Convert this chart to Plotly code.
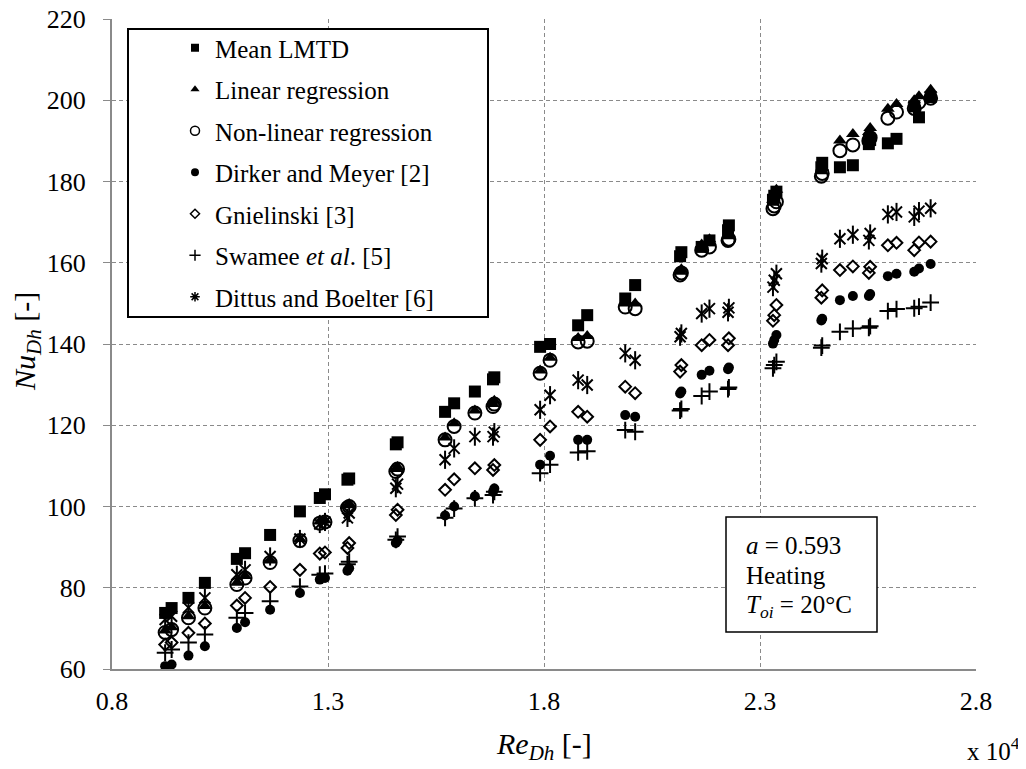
import plotly.graph_objects as go

# Reynolds number (x 10^4)
RE = [0.923, 0.938, 0.977, 1.015, 1.089, 1.108, 1.166, 1.235, 1.281, 1.293,
      1.345, 1.349, 1.457, 1.461, 1.571, 1.592, 1.640, 1.682, 1.685, 1.791,
      1.814, 1.879, 1.900, 1.988, 2.011, 2.115, 2.118, 2.165, 2.183, 2.226,
      2.228, 2.330, 2.333, 2.338, 2.442, 2.444, 2.485, 2.515, 2.552, 2.555,
      2.596, 2.616, 2.657, 2.668, 2.695]

MEAN_LMTD = [73.8, 75.0, 77.5, 81.2, 87.1, 88.5, 93.0, 98.8, 102.1, 103.0,
             106.6, 106.9, 115.3, 115.8, 123.3, 125.4, 128.3, 131.3, 131.8, 139.3,
             140.0, 144.6, 147.1, 151.2, 154.5, 161.6, 162.6, 163.9, 165.5, 168.0,
             169.2, 175.5, 176.5, 177.5, 183.5, 184.6, 183.5, 184.0, 189.2, 190.2,
             189.4, 190.5, 198.5, 195.8, 200.8]

LINEAR_REG = [69.5, 70.3, 73.0, 75.5, 81.2, 82.9, 86.7, 92.0, 96.3, 96.6,
              100.3, 100.6, 109.2, 109.7, 117.0, 120.5, 123.6, 125.2, 126.0, 133.5,
              136.6, 141.5, 142.0, 150.0, 150.0, 157.8, 158.4, 164.5, 165.8, 166.5,
              167.0, 175.5, 176.5, 178.0, 182.5, 183.5, 190.1, 191.7, 192.2, 193.2,
              197.9, 199.1, 200.0, 201.0, 202.6]

NONLINEAR_REG = [69.0, 69.7, 72.6, 75.0, 80.8, 82.4, 86.2, 91.6, 95.9, 96.2,
                 99.7, 100.0, 108.6, 109.2, 116.4, 119.7, 123.0, 124.6, 125.2, 132.8,
                 136.0, 140.5, 140.7, 149.1, 148.7, 157.0, 157.5, 163.1, 163.9, 165.5,
                 165.8, 173.3, 174.0, 175.0, 181.3, 182.0, 187.6, 189.0, 190.0, 190.8,
                 195.6, 197.1, 198.0, 199.5, 200.5]

DIRKER_MEYER = [60.7, 61.1, 63.3, 65.6, 70.1, 71.5, 74.6, 78.7, 82.0, 82.4,
                84.2, 84.8, 91.0, 91.6, 97.8, 100.0, 102.5, 103.6, 104.4, 110.3,
                112.5, 116.4, 116.4, 122.5, 122.1, 127.8, 128.3, 132.4, 133.4, 133.8,
                134.2, 140.1, 141.0, 142.2, 145.8, 146.2, 150.8, 151.8, 151.8, 152.3,
                156.7, 157.3, 157.8, 158.6, 159.7]

GNIELINSKI = [66.0, 66.5, 68.9, 71.2, 75.6, 77.5, 80.2, 84.4, 88.4, 88.7,
              89.8, 91.0, 97.9, 99.2, 104.1, 106.7, 109.4, 109.0, 110.2, 116.4,
              119.7, 123.3, 122.1, 129.5, 127.9, 133.2, 134.8, 139.7, 141.0, 139.7,
              141.4, 145.7, 147.1, 149.6, 151.4, 153.2, 158.2, 159.1, 157.5, 159.0,
              164.3, 164.9, 163.1, 165.0, 165.2]

SWAMEE = [64.0, 64.8, 66.5, 68.5, 72.6, 73.8, 76.7, 80.3, 83.2, 83.5,
          85.8, 86.4, 91.8, 92.6, 97.2, 99.5, 102.0, 102.8, 103.6, 108.2,
          110.3, 113.3, 113.6, 118.8, 118.4, 123.6, 124.0, 127.2, 128.3, 128.9,
          129.3, 134.0, 134.8, 135.6, 139.1, 139.6, 143.0, 143.8, 144.0, 144.4,
          148.1, 148.6, 148.8, 149.2, 150.2]

DITTUS_BOELTER = [72.2, 73.0, 75.1, 77.5, 83.2, 84.4, 87.7, 92.0, 95.7, 96.2,
                  97.2, 98.4, 104.5, 105.5, 111.5, 114.3, 117.2, 117.2, 118.3, 123.8,
                  127.4, 131.1, 129.9, 137.7, 136.0, 141.8, 142.6, 147.5, 148.7, 147.8,
                  148.9, 154.0, 155.7, 157.3, 159.8, 161.0, 165.9, 166.9, 165.5, 167.2,
                  171.9, 172.5, 171.3, 172.7, 173.4]

SERIES_NAMES = ["Mean LMTD", "Linear regression", "Non-linear regression",
                "Dirker and Meyer [2]", "Gnielinski [3]",
                "Swamee <i>et al</i>. [5]", "Dittus and Boelter [6]"]

X_TICKS = [0.8, 1.3, 1.8, 2.3, 2.8]
X_TICK_TEXT = ["0.8", "1.3", "1.8", "2.3", "2.8"]
Y_TICKS = [60, 80, 100, 120, 140, 160, 180, 200, 220]

FONT = "Liberation Serif, Times New Roman, serif"
BLACK = "#000000"
GRID = "#8a8a8a"

# page body margin of the html page (the figure is drawn 8px right/down)
OFF = 8
# plot area in screen pixels
L, R, T, B = 112, 976, 19, 669
W, H = 1026 - OFF, 769 - OFF


def px(p):
    return (p - L) / (R - L)


def py(p):
    return (B - p) / (B - T)


fig = go.Figure()


def add(y, symbol, size, lw=0):
    fig.add_trace(go.Scatter(
        x=RE, y=y, mode="markers", showlegend=False, hoverinfo="x+y",
        marker=dict(symbol=symbol, size=size, color=BLACK,
                    line=dict(color=BLACK, width=lw))))


add(MEAN_LMTD, "square", 12)
add(NONLINEAR_REG, "circle-open", 13, lw=2)
add(LINEAR_REG, "triangle-up", 12)
add(DIRKER_MEYER, "circle", 10)
add(GNIELINSKI, "diamond-open", 9, lw=2)
add(SWAMEE, "cross-thin-open", 12, lw=2)
add(DITTUS_BOELTER, "x-thin-open", 11, lw=2)
add(DITTUS_BOELTER, "line-ns-open", 13, lw=2)

# legend entries
legend_markers = [
    dict(symbol="square", size=8, color=BLACK),
    dict(symbol="triangle-up", size=8, color=BLACK),
    dict(symbol="circle-open", size=9, color=BLACK, line=dict(color=BLACK, width=1.5)),
    dict(symbol="circle", size=8, color=BLACK),
    dict(symbol="diamond-open", size=7, color=BLACK, line=dict(color=BLACK, width=1.5)),
    dict(symbol="cross-thin-open", size=8, color=BLACK, line=dict(color=BLACK, width=1.5)),
    dict(symbol="asterisk-open", size=8, color=BLACK, line=dict(color=BLACK, width=1.5)),
]
for i, (name, mk) in enumerate(zip(SERIES_NAMES, legend_markers)):
    fig.add_trace(go.Scatter(x=[None], y=[None], mode="markers", name=name,
                             marker=mk, showlegend=True, legendgroup=f"g{i}",
                             legendrank=i + 1))

axis_common = dict(
    showgrid=True, gridcolor=GRID, gridwidth=1, griddash="4px,3px",
    showline=True, linecolor=GRID, linewidth=2, zeroline=False,
    tickfont=dict(family=FONT, size=26, color=BLACK),
    ticklabeloverflow="allow",
)

fig.update_xaxes(range=[0.79999, 2.80001], tickmode="array", tickvals=X_TICKS,
                 ticktext=X_TICK_TEXT, ticks="", ticklabelstandoff=8,
                 **axis_common)
fig.update_yaxes(range=[59.999, 220.001], tickmode="array", tickvals=Y_TICKS,
                 ticks="outside", ticklen=7, tickcolor=GRID, tickwidth=1,
                 ticklabelstandoff=12, **axis_common)

shapes = [
    # legend box
    dict(type="rect", xref="paper", yref="paper", x0=px(128), x1=px(488),
         y0=py(29), y1=py(317), line=dict(color=BLACK, width=2),
         fillcolor="white", layer="above"),
    # annotation box
    dict(type="rect", xref="paper", yref="paper", x0=px(726), x1=px(877),
         y0=py(517), y1=py(632), line=dict(color=BLACK, width=1.5),
         fillcolor="white", layer="above"),
]

annotations = [
    dict(text="<i>a</i> = 0.593", x=px(744), y=py(545)),
    dict(text="Heating", x=px(744), y=py(575)),
    dict(text="<i>T</i><sub><i>oi</i></sub> = 20°C", x=px(744), y=py(606)),
]
annotations = [dict(a, xref="paper", yref="paper", xanchor="left", yanchor="middle",
                    showarrow=False, font=dict(family=FONT, size=25, color=BLACK))
               for a in annotations]
annotations += [
    dict(text="<i>Re</i><sub><i>Dh</i></sub> [-]", x=px(544), y=py(767),
         xref="paper", yref="paper", xanchor="center", yanchor="bottom",
         showarrow=False, font=dict(family=FONT, size=30, color=BLACK)),
    dict(text="<i>Nu</i><sub><i>Dh</i></sub> [-]", x=px(27), y=py(342),
         xref="paper", yref="paper", xanchor="center", yanchor="middle",
         textangle=-90, showarrow=False,
         font=dict(family=FONT, size=30, color=BLACK)),
    dict(text="x 10<sup>4</sup>", x=px(994), y=py(767),
         xref="paper", yref="paper", xanchor="center", yanchor="bottom",
         showarrow=False, font=dict(family=FONT, size=25, color=BLACK)),
]

fig.update_layout(
    width=W, height=H,
    margin=dict(l=L - OFF, r=W - (R - OFF), t=T - OFF, b=H - (B - OFF),
                autoexpand=False),
    paper_bgcolor="white", plot_bgcolor="white",
    font=dict(family=FONT, size=25, color=BLACK),
    shapes=shapes, annotations=annotations,
    legend=dict(x=px(175), y=py(25), xanchor="left", yanchor="top",
                bgcolor="rgba(0,0,0,0)", borderwidth=0, tracegroupgap=6,
                font=dict(family=FONT, size=25, color=BLACK),
                itemclick=False, itemdoubleclick=False),
)

fig.write_html("out.html")
